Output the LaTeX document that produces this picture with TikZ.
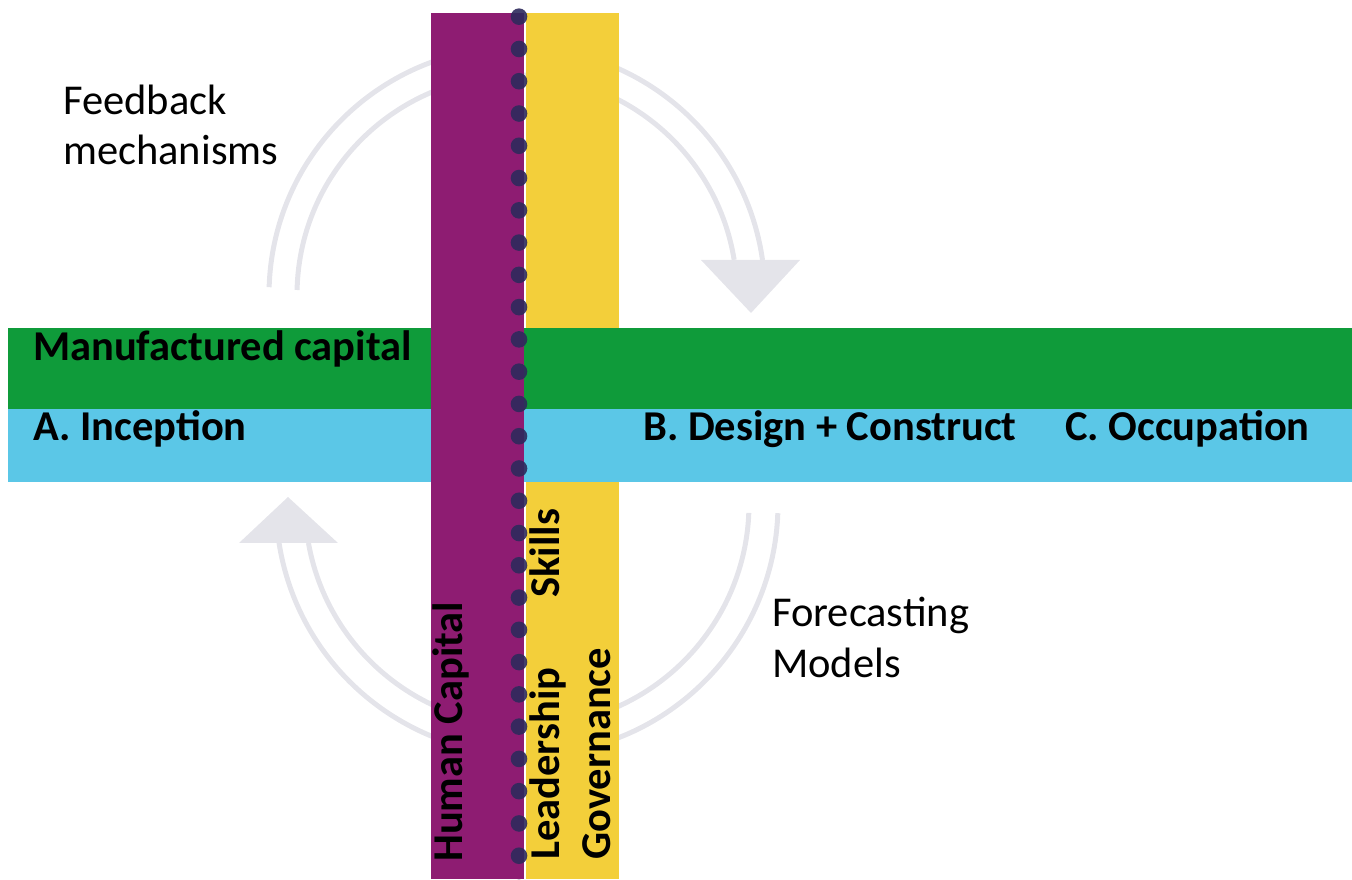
\documentclass[tikz,border=0pt]{standalone}
\usepackage{fontspec}
\setmainfont{Carlito}
\pgfdeclarelayer{bg}
\pgfsetlayers{bg,main}
\definecolor{hcpurple}{HTML}{8E1C72}
\definecolor{govyellow}{HTML}{F3CF3A}
\definecolor{mcgreen}{HTML}{0F9B3A}
\definecolor{stageblue}{HTML}{5BC7E7}
\definecolor{loopgray}{HTML}{E4E4EA}
\definecolor{dotnavy}{HTML}{2E2A5C}
\tikzset{
  cyc/.style={draw=loopgray,line width=5pt},
  tip/.style={fill=loopgray},
  lbl/.style={inner sep=0,anchor=base west,font=\fontsize{42.5}{50}\selectfont},
  blbl/.style={inner sep=0,anchor=base west,font=\fontsize{42.5}{50}\selectfont\bfseries},
  vlbl/.style={blbl,rotate=90},
}

\begin{document}
\begin{tikzpicture}[x=1pt,y=1pt]
\useasboundingbox (0,0) rectangle (1352,879);
\coordinate (tc) at (517,584);
\coordinate (bc) at (527,375);
\begin{pgfonlayer}{bg}
  % feedback loop, top
  \draw[cyc] ([shift={(178.2:248pt)}]tc) arc[start angle=178.2,end angle=8.1,radius=248pt];
  \draw[cyc] ([shift={(178.7:220pt)}]tc) arc[start angle=178.7,end angle=9.2,radius=220pt];
  \fill[tip] (701,619) -- (800,619) -- (751,566) -- cycle;
  % forecasting loop, bottom
  \draw[cyc] ([shift={(188.9:251pt)}]bc) arc[start angle=188.9,end angle=357.9,radius=251pt];
  \draw[cyc] ([shift={(190.1:222pt)}]bc) arc[start angle=190.1,end angle=357.7,radius=222pt];
  \fill[tip] (239,336) -- (338,336) -- (288,382) -- cycle;
\end{pgfonlayer}
\fill[govyellow] (526,0) rectangle (619,866);
\fill[mcgreen] (8,470) rectangle (1352,551);
\fill[stageblue] (8,397) rectangle (1352,470);
\fill[hcpurple] (431,0) rectangle (524,866);
\foreach \k in {0,...,27}
  \fill[dotnavy,fill opacity=.9] (519,{862.3-32.27*\k}) circle (8.3pt);

\node[lbl] (fb) at (63,764) {Feedback};
\node[lbl] (mech) at ([yshift=-50pt]fb.base west) {mechanisms};
\node[lbl] (fc) at (772,253) {Forecasting};
\node[lbl] (mod) at ([yshift=-51pt]fc.base west) {Models};
\node[blbl] (mc) at (33,518) {Manufactured capital};
\node[blbl] (inc) at (33,438) {A. Inception};
\node[blbl] (dc) at (643,438) {B. Design + Construct};
\node[blbl] (occ) at (1065,438) {C. Occupation};
\node[vlbl] (hc) at (462,17) {Human Capital};
\node[vlbl] (sk) at (559,281) {Skills};
\node[vlbl] (ld) at (559,19) {Leadership};
\node[vlbl] (gov) at (610,19) {Governance};
\end{tikzpicture}
\end{document}
